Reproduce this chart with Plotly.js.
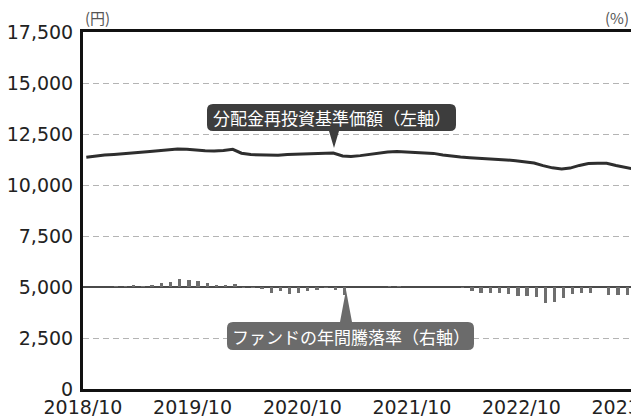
<!DOCTYPE html>
<html>
<head>
<meta charset="utf-8">
<script src="https://cdn.plot.ly/plotly-3.0.1.min.js"></script>
<style>
html,body{margin:0;padding:0;background:#fff;}
#chart{width:631px;height:419px;}
</style>
</head>
<body>
<div id="chart"></div>
<script>
// ---- data ----
// NAV (dividends reinvested), one point per month from 2018/10 to 2023/10
var navStartYear = 2018, navStartMonth = 10, navDay = 12;
var navValues = [11360,11420,11470,11500,11540,11600,11610,11640,11680,11720,
                 11760,11750,11700,11680,11670,11690,11750,11560,11490,11480,
                 11470,11460,11490,11500,11520,11530,11550,11570,11420,11400,
                 11440,11500,11560,11620,11640,11610,11590,11570,11550,11470,
                 11400,11370,11340,11320,11290,11270,11230,11190,11130,11080,
                 10950,10840,10790,10830,10960,11050,11070,11070,10960,10870,
                 10780];
// Annual return (%), monthly from 2019/01 to 2023/08
var retStartYear = 2019, retStartMonth = 1, retDay = 19;
var retValues = [0.4,0.4,0.6,0.4,0.6,1.6,2.0,3.0,2.8,2.5,
                 1.7,0.8,0.6,1.2,-0.4,-0.2,-0.8,-2.2,-1.6,-2.9,
                 -2.5,-1.6,-1.2,-0.3,-1.0,-3.3,0,0,0,0,
                 0.4,0.4,0,0,0,0,0,0,-0.4,-1.4,
                 -2.4,-2.4,-2.4,-2.7,-3.7,-3.7,-3.9,-6.1,-5.9,-4.3,
                 -2.9,-2.5,-2.4,0,-3.1,-3.1,-3.1];
var yTickVals = [0,2500,5000,7500,10000,12500,15000,17500];
var lineLabel = '分配金再投資基準価額（左軸）';
var barLabel = 'ファンドの年間騰落率（右軸）';
var leftUnit = '(円)';
var rightUnit = '(%)';

function monthDates(y0, m0, day, n){
  var out = [];
  for (var i = 0; i < n; i++){
    var t = (m0 - 1) + i;
    var y = y0 + Math.floor(t / 12);
    var m = (t % 12) + 1;
    out.push(y + '-' + (m < 10 ? '0' : '') + m + '-' + (day < 10 ? '0' : '') + day);
  }
  return out;
}
var navDates = monthDates(navStartYear, navStartMonth, navDay, navValues.length);
var retDates = monthDates(retStartYear, retStartMonth, retDay, retValues.length);

// ---- layout helpers (pixel -> paper for callout shapes) ----
var L = 83, R = 631, T = 32, B = 389;
function px(X){ return (X - L) / (R - L); }
function py(Y){ return (B - Y) / (B - T); }
function callout(x0, y0, x1, y1, r, baseA, baseB, tipX, tipY, below){
  var p = [];
  function P(cmd, X, Y){ p.push(cmd + px(X).toFixed(5) + ',' + py(Y).toFixed(5)); }
  function Q(cx, cy, X, Y){ p.push('Q' + px(cx).toFixed(5) + ',' + py(cy).toFixed(5) + ' ' + px(X).toFixed(5) + ',' + py(Y).toFixed(5)); }
  P('M', x0 + r, y0);
  if (!below){ P('L', baseA, y0); P('L', tipX, tipY); P('L', baseB, y0); }
  P('L', x1 - r, y0);
  Q(x1, y0, x1, y0 + r);
  P('L', x1, y1 - r);
  Q(x1, y1, x1 - r, y1);
  if (below){ P('L', baseB, y1); P('L', tipX, tipY); P('L', baseA, y1); }
  P('L', x0 + r, y1);
  Q(x0, y1, x0, y1 - r);
  P('L', x0, y0 + r);
  Q(x0, y0, x0 + r, y0);
  p.push('Z');
  return p.join(' ');
}

var traces = [
  {
    type: 'bar', x: retDates, y: retValues, yaxis: 'y2',
    marker: {color: '#6e6e6e'}, width: 11 * 86400000,
    hoverinfo: 'skip', showlegend: false
  },
  {
    type: 'scatter', mode: 'lines', x: navDates, y: navValues,
    line: {color: '#2e2e2e', width: 3}, hoverinfo: 'skip', showlegend: false
  }
];

var tickFont = {family: 'DejaVu Sans', size: 19, color: '#222'};

var layout = {
  width: 631, height: 419,
  margin: {l: L, r: 631 - R, t: T, b: 419 - B, pad: 0},
  paper_bgcolor: '#fff', plot_bgcolor: '#fff',
  showlegend: false,
  bargap: 0,
  xaxis: {
    type: 'date', range: ['2018-10-01', '2023-10-01'],
    tick0: '2018-10-01', dtick: 'M12', tickformat: '%Y/%m',
    showgrid: false, zeroline: false,
    showline: true, mirror: true, linecolor: '#111', linewidth: 3,
    ticks: '', tickfont: tickFont, automargin: false,
    ticklabelstandoff: -1, ticklabeloverflow: 'allow'
  },
  yaxis: {
    range: [0, 17500], tickvals: yTickVals, tickformat: ',d',
    showgrid: true, gridcolor: '#b4b4b4', gridwidth: 1, griddash: '6px,4px',
    zeroline: false, showline: true, linecolor: '#111', linewidth: 3,
    ticks: '', tickfont: tickFont, automargin: false, ticklabelstandoff: 3,
    ticklabeloverflow: 'allow'
  },
  yaxis2: {
    overlaying: 'y', side: 'right', range: [-40, 100],
    showgrid: false, showticklabels: false, showline: false,
    zeroline: true, zerolinecolor: '#4a4a4a', zerolinewidth: 2
  },
  shapes: [
    {type: 'path', xref: 'paper', yref: 'paper', layer: 'above',
     path: callout(207, 104, 456, 131, 6, 329, 339, 334, 148, true),
     fillcolor: '#3d3d3d', line: {width: 0}},
    {type: 'path', xref: 'paper', yref: 'paper', layer: 'above',
     path: callout(227, 322, 474, 350, 6, 340, 352, 346, 290, false),
     fillcolor: '#6b6b6b', line: {width: 0}}
  ],
  annotations: [
    {xref: 'paper', yref: 'paper', x: px(331.5), y: py(117.5), text: lineLabel,
     showarrow: false, xanchor: 'center', yanchor: 'middle',
     font: {family: 'Noto Sans CJK JP', size: 17, color: '#fff'}},
    {xref: 'paper', yref: 'paper', x: px(350.5), y: py(336), text: barLabel,
     showarrow: false, xanchor: 'center', yanchor: 'middle',
     font: {family: 'Noto Sans CJK JP', size: 17, color: '#fff'}},
    {xref: 'paper', yref: 'paper', x: px(97), y: py(18), text: leftUnit,
     showarrow: false, xanchor: 'center', yanchor: 'middle',
     font: {family: 'Noto Sans CJK JP', size: 15, color: '#555'}},
    {xref: 'paper', yref: 'paper', x: px(603), y: py(18), text: rightUnit,
     showarrow: false, xanchor: 'left', yanchor: 'middle',
     font: {family: 'Noto Sans CJK JP', size: 15, color: '#555'}}
  ]
};

Plotly.newPlot('chart', traces, layout, {staticPlot: true, displayModeBar: false});
</script>
</body>
</html>
